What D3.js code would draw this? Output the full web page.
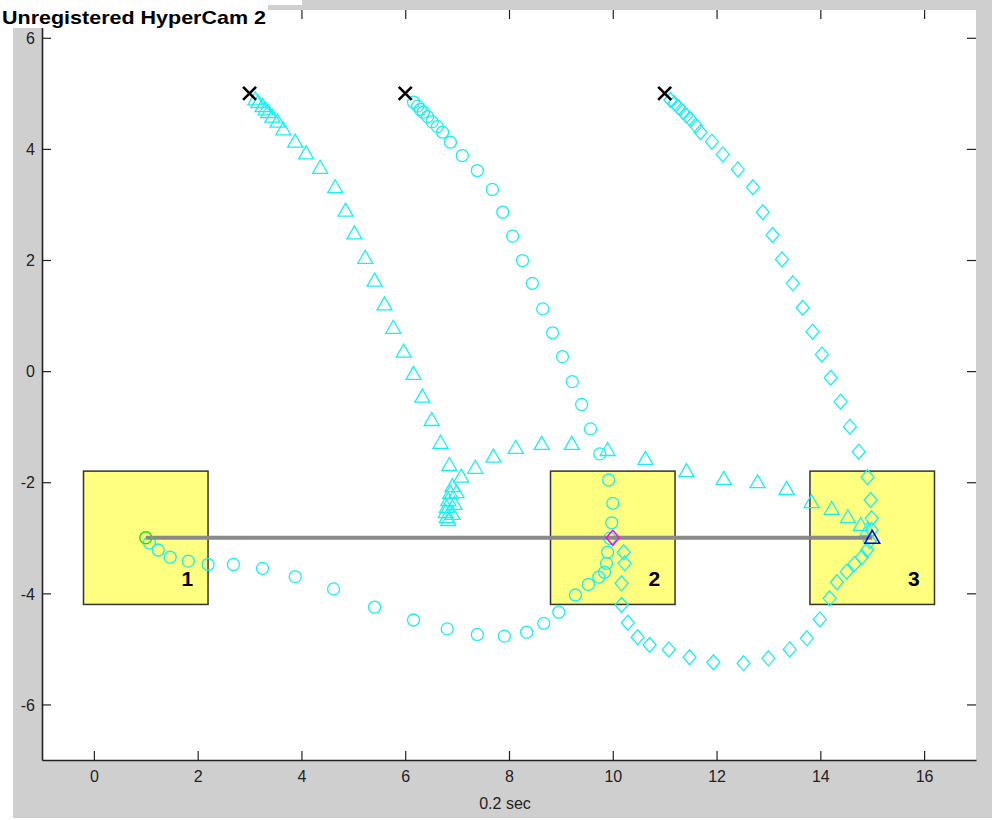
<!DOCTYPE html>
<html><head><meta charset="utf-8">
<script src="https://cdn.jsdelivr.net/npm/d3@7"></script>
<style>
html,body{margin:0;padding:0;background:#fff;}
text{font-family:"Liberation Sans Narrow","Arial Narrow","Liberation Sans",Arial,sans-serif;}
</style></head>
<body>
<script>
// ---------- data ----------
const xTicks = [0, 2, 4, 6, 8, 10, 12, 14, 16];
const yTicks = [-6, -4, -2, 0, 2, 4, 6];
const xLabel = "0.2 sec";
const bannerText = "Unregistered HyperCam 2";

const startX = [3, 6, 11];
const startY = [5, 5, 5];

const targetX = [1, 10, 15];
const targetY = [-3, -3, -3];
const targetLabels = ["1", "2", "3"];
const targetHalf = 1.2;

// triangle trajectory (start 3,5 -> end 15,-3)
const triX = [3.11,3.17,3.25,3.31,3.36,3.44,3.54,3.65,3.88,4.09,4.36,4.65,4.85,5.02,5.23,5.41,5.60,5.77,5.97,6.16,6.33,6.51,6.68,6.85,6.91,6.87,6.83,6.80,6.78,6.80,6.83,6.91,6.95,6.99,7.08,7.35,7.70,8.13,8.63,9.21,9.90,10.63,11.42,12.14,12.79,13.35,13.83,14.22,14.53,14.78,14.91];
const triY = [4.89,4.84,4.77,4.71,4.66,4.58,4.49,4.35,4.13,3.92,3.66,3.31,2.89,2.48,2.04,1.63,1.20,0.78,0.35,-0.05,-0.46,-0.88,-1.29,-1.69,-2.07,-2.19,-2.32,-2.45,-2.54,-2.63,-2.68,-2.57,-2.39,-2.18,-1.90,-1.74,-1.54,-1.38,-1.31,-1.31,-1.42,-1.58,-1.80,-1.94,-2.00,-2.12,-2.36,-2.48,-2.63,-2.77,-2.86];

// circle trajectory (start 6,5 -> end 1,-3)
const circX = [6.16,6.24,6.29,6.35,6.43,6.52,6.62,6.72,6.87,7.10,7.39,7.68,7.88,8.07,8.26,8.45,8.65,8.84,9.03,9.22,9.40,9.57,9.75,9.92,10.00,9.98,9.94,9.90,9.88,9.84,9.73,9.53,9.28,8.96,8.67,8.34,7.91,7.39,6.81,6.16,5.41,4.62,3.88,3.25,2.69,2.20,1.82,1.47,1.24,1.07];
const circY = [4.84,4.77,4.71,4.66,4.58,4.49,4.40,4.30,4.12,3.88,3.61,3.27,2.86,2.43,1.99,1.58,1.12,0.69,0.26,-0.19,-0.60,-1.04,-1.49,-1.96,-2.38,-2.73,-3.01,-3.26,-3.46,-3.62,-3.71,-3.84,-4.03,-4.34,-4.54,-4.70,-4.77,-4.74,-4.64,-4.48,-4.25,-3.92,-3.70,-3.55,-3.48,-3.48,-3.42,-3.35,-3.22,-3.09];

// diamond trajectory (start 11,5 -> end 10,-3)
const diamX = [11.11,11.19,11.27,11.35,11.42,11.50,11.60,11.69,11.91,12.12,12.41,12.70,12.89,13.08,13.26,13.47,13.66,13.85,14.03,14.20,14.39,14.57,14.74,14.91,14.97,14.99,14.99,14.95,14.90,14.80,14.66,14.51,14.32,14.18,13.99,13.74,13.41,13.00,12.52,11.94,11.48,11.08,10.71,10.48,10.29,10.17,10.17,10.23,10.21];
const diamY = [4.88,4.82,4.75,4.67,4.60,4.53,4.42,4.30,4.13,3.90,3.63,3.31,2.86,2.45,2.01,1.58,1.14,0.71,0.30,-0.12,-0.55,-1.00,-1.45,-1.91,-2.32,-2.65,-2.86,-3.06,-3.22,-3.35,-3.47,-3.61,-3.80,-4.09,-4.47,-4.81,-5.01,-5.17,-5.26,-5.24,-5.15,-5.01,-4.93,-4.79,-4.53,-4.21,-3.82,-3.46,-3.26];

// end points of the three trajectories
const endX = [15, 1, 10];
const endY = [-3, -3, -3];
const endColors = ["#0000ff", "#22dd22", "#ff00ff"];
const endShapes = ["tri", "circ", "diam"];

// ---------- drawing ----------
const W = 992, H = 820;
const svg = d3.select("body").append("svg").attr("width", W).attr("height", H)
  .style("display", "block");

svg.append("rect").attr("width", W).attr("height", H).attr("fill", "#ffffff");
svg.append("rect").attr("x", 13).attr("y", 0).attr("width", W - 13).attr("height", 818).attr("fill", "#cfcfcf");

const x = d3.scaleLinear().domain([-1, 17]).range([42, 976]);
const y = d3.scaleLinear().domain([-7, 6.5]).range([760, 10]);

svg.append("rect").attr("x", x(-1)).attr("y", y(6.5))
  .attr("width", x(17) - x(-1)).attr("height", y(-7) - y(6.5)).attr("fill", "#ffffff");

// axes
const axColor = "#222";
const fmt = d => String(d);
const gx = svg.append("g").attr("transform", `translate(0,${y(-7)})`)
  .call(d3.axisBottom(x).tickValues(xTicks).tickFormat(fmt).tickSizeInner(-9).tickSizeOuter(0).tickPadding(11));
const gy = svg.append("g").attr("transform", `translate(${x(-1)},0)`)
  .call(d3.axisLeft(y).tickValues(yTicks).tickFormat(fmt).tickSizeInner(-9).tickSizeOuter(0).tickPadding(7));
const gt = svg.append("g").attr("transform", `translate(0,${y(6.5)})`)
  .call(d3.axisTop(x).tickValues(xTicks).tickSizeInner(-9).tickSizeOuter(0).tickFormat(""));
const gr = svg.append("g").attr("transform", `translate(${x(17)},0)`)
  .call(d3.axisRight(y).tickValues(yTicks).tickSizeInner(-9).tickSizeOuter(0).tickFormat(""));
gt.select(".domain").remove();
gr.select(".domain").remove();
[gx, gy, gt, gr].forEach(g => {
  g.selectAll("path,line").attr("stroke", axColor).attr("stroke-width", 1.2);
  g.selectAll("text").attr("fill", "#222").style("font-size", "16px")
    .style("font-family", "'Liberation Sans Narrow','Arial Narrow','Liberation Sans',Arial,sans-serif");
});
gx.select(".domain").attr("stroke-width", 1.6);
gy.select(".domain").attr("stroke-width", 1.6);
gy.selectAll("text").attr("dy", "0.36em");

svg.append("text").attr("x", 505).attr("y", 809).attr("text-anchor", "middle")
  .style("font-size", "16px").attr("fill", "#222").text(xLabel);

// targets (boxes)
const plot = svg.append("g");
targetX.forEach((tx, i) => {
  const ty = targetY[i];
  plot.append("rect")
    .attr("x", x(tx - targetHalf)).attr("y", y(ty + targetHalf))
    .attr("width", x(tx + targetHalf) - x(tx - targetHalf))
    .attr("height", y(ty - targetHalf) - y(ty + targetHalf))
    .attr("fill", "#ffff80").attr("stroke", "#333").attr("stroke-width", 1.5);
});

// marker shapes
const shapes = {
  tri: {draw(ctx) { ctx.moveTo(0, -7.5); ctx.lineTo(7.5, 5.5); ctx.lineTo(-7.5, 5.5); ctx.closePath(); }},
  circ: {draw(ctx) { ctx.moveTo(6, 0); ctx.arc(0, 0, 6, 0, 2 * Math.PI); ctx.closePath(); }},
  diam: {draw(ctx) { ctx.moveTo(0, -7.5); ctx.lineTo(6.5, 0); ctx.lineTo(0, 7.5); ctx.lineTo(-6.5, 0); ctx.closePath(); }}
};
const cyan = "#19f0f0";
function drawSeries(xs, ys, shape) {
  plot.append("g").selectAll("path").data(xs.map((v, i) => [v, ys[i]])).join("path")
    .attr("transform", d => `translate(${x(d[0])},${y(d[1])})`)
    .attr("d", d3.symbol().type(shapes[shape])())
    .attr("fill", "none").attr("stroke", cyan).attr("stroke-width", 1.3);
}
drawSeries(triX, triY, "tri");
drawSeries(circX, circY, "circ");
drawSeries(diamX, diamY, "diam");

// connecting gray line between first and last target
plot.append("line")
  .attr("x1", x(targetX[0])).attr("y1", y(targetY[0]))
  .attr("x2", x(targetX[2])).attr("y2", y(targetY[2]))
  .attr("stroke", "#8a8a8a").attr("stroke-width", 4);

// end markers
endX.forEach((ex, i) => {
  plot.append("path")
    .attr("transform", `translate(${x(ex)},${y(endY[i])})`)
    .attr("d", d3.symbol().type(shapes[endShapes[i]])())
    .attr("fill", "none").attr("stroke", endColors[i]).attr("stroke-width", 1.5);
});

// start X markers
startX.forEach((sx, i) => {
  const cx = x(sx), cy = y(startY[i]);
  plot.append("path")
    .attr("d", `M${cx - 6.5},${cy - 6.5}L${cx + 6.5},${cy + 6.5}M${cx - 6.5},${cy + 6.5}L${cx + 6.5},${cy - 6.5}`)
    .attr("stroke", "#000").attr("stroke-width", 2.6);
});

// target labels
targetX.forEach((tx, i) => {
  plot.append("text").attr("x", x(tx + 0.8)).attr("y", y(targetY[i] - 0.73))
    .attr("text-anchor", "middle").attr("dy", "0.36em")
    .style("font-family", "Arial, 'Liberation Sans', sans-serif")
    .style("font-weight", "bold").style("font-size", "21px").attr("fill", "#000")
    .text(targetLabels[i]);
});

// banner (drawn last, covers the top-left corner)
svg.append("rect").attr("x", 0).attr("y", 0).attr("width", 268).attr("height", 28).attr("fill", "#ffffff");
svg.append("rect").attr("x", 268).attr("y", 0).attr("width", 34).attr("height", 5).attr("fill", "#ffffff");
svg.append("text").attr("x", 2).attr("y", 24).text(bannerText)
  .attr("textLength", 264).attr("lengthAdjust", "spacingAndGlyphs")
  .style("font-family", "Arial, 'Liberation Sans', sans-serif")
  .style("font-weight", "bold").style("font-size", "19px").attr("fill", "#000");
</script>
</body></html>
